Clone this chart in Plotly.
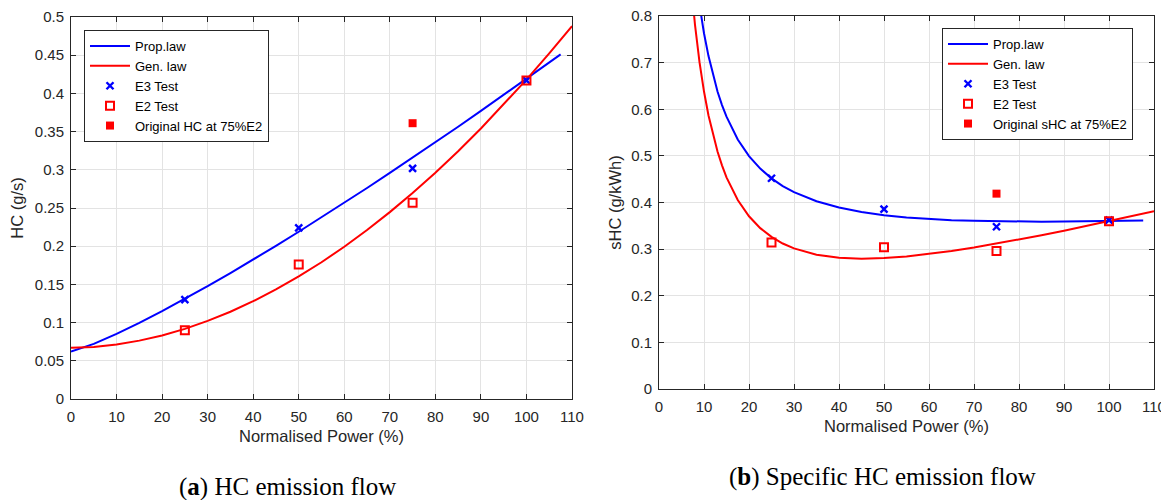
import plotly.graph_objects as go

# ---------- data ----------
# (a) HC emission flow
prop_x_a = [0, 5, 10, 15, 20, 25, 30, 35, 40, 45, 50, 55, 60, 65, 70, 75, 80, 85, 90, 95, 100, 105, 107.5]
prop_y_a = [0.062, 0.0722, 0.0853, 0.0996, 0.1150, 0.1310, 0.1476, 0.1648, 0.1824, 0.2005, 0.2189,
            0.2377, 0.2568, 0.2762, 0.2959, 0.3158, 0.3360, 0.3564, 0.3771, 0.3979, 0.419, 0.4403, 0.4510]
gen_x_a = [0, 5, 10, 15, 20, 25, 30, 35, 40, 45, 50, 55, 60, 65, 70, 75, 80, 85, 90, 95, 100, 105, 110]
gen_y_a = [0.067, 0.0681, 0.0713, 0.0764, 0.0832, 0.0918, 0.1022, 0.1142, 0.1280, 0.1434, 0.1604,
           0.1790, 0.1993, 0.2212, 0.2446, 0.2695, 0.2962, 0.3244, 0.3540, 0.3853, 0.418, 0.4523, 0.4881]
test_x = [25, 50, 75, 100]
e3_a = [0.130, 0.224, 0.302, 0.417]
e2_a = [0.090, 0.176, 0.257, 0.417]
orig_x = [75]
orig_a = [0.361]

# (b) Specific HC emission flow
prop_x_b = [9, 9.5, 10, 11, 12, 13, 14, 15, 17.5, 20, 22.5, 25, 27.5, 30, 35, 40, 45, 50, 55, 60,
            65, 70, 75, 80, 85, 90, 95, 100, 105, 107.6]
prop_y_b = [0.824, 0.792, 0.763, 0.714, 0.673, 0.638, 0.609, 0.584, 0.535, 0.4995, 0.4727, 0.4518,
            0.4353, 0.4221, 0.4026, 0.3891, 0.3796, 0.3729, 0.3680, 0.3646, 0.3622, 0.3606, 0.3596,
            0.3591, 0.3589, 0.3590, 0.3595, 0.360, 0.3608, 0.3612]
gen_x_b = [7, 7.5, 8, 9, 10, 11, 12, 13, 14, 15, 17.5, 20, 22.5, 25, 27.5, 30, 35, 40, 45, 50, 55,
           60, 65, 70, 75, 80, 85, 90, 95, 100, 105, 110]
gen_y_b = [0.8845, 0.8292, 0.7809, 0.7010, 0.638, 0.5866, 0.5445, 0.5094, 0.4797, 0.454, 0.4054,
           0.3705, 0.3450, 0.3262, 0.3121, 0.3015, 0.2881, 0.2816, 0.2795, 0.2808, 0.2843, 0.2895,
           0.2959, 0.3033, 0.3116, 0.3204, 0.3298, 0.3395, 0.3496, 0.360, 0.3706, 0.3814]
e3_b = [0.452, 0.386, 0.348, 0.362]
e2_b = [0.314, 0.304, 0.296, 0.360]
orig_b = [0.419]

x_ticks = list(range(0, 111, 10))
y_ticks_a = [0, 0.05, 0.1, 0.15, 0.2, 0.25, 0.3, 0.35, 0.4, 0.45, 0.5]
y_tick_text_a = ["0", "0.05", "0.1", "0.15", "0.2", "0.25", "0.3", "0.35", "0.4", "0.45", "0.5"]
y_ticks_b = [0, 0.1, 0.2, 0.3, 0.4, 0.5, 0.6, 0.7, 0.8]
y_tick_text_b = ["0", "0.1", "0.2", "0.3", "0.4", "0.5", "0.6", "0.7", "0.8"]

BLUE = "#0000ff"
RED = "#ff0000"
FONT = "Liberation Sans, Arial, sans-serif"
AX = "#262626"

fig = go.Figure()

def add_panel(xa, ya, legend, px, py, gx, gy, e3, e2, orig, orig_name):
    fig.add_trace(go.Scatter(x=px, y=py, mode="lines", name="Prop.law",
                             line=dict(color=BLUE, width=2),
                             xaxis=xa, yaxis=ya, legend=legend))
    fig.add_trace(go.Scatter(x=gx, y=gy, mode="lines", name="Gen. law",
                             line=dict(color=RED, width=2),
                             xaxis=xa, yaxis=ya, legend=legend))
    fig.add_trace(go.Scatter(x=test_x, y=e3, mode="markers", name="E3 Test",
                             marker=dict(symbol="x-thin", size=7, color=BLUE,
                                         line=dict(color=BLUE, width=2.4)),
                             xaxis=xa, yaxis=ya, legend=legend))
    fig.add_trace(go.Scatter(x=test_x, y=e2, mode="markers", name="E2 Test",
                             marker=dict(symbol="square-open", size=8, color=RED,
                                         line=dict(color=RED, width=2)),
                             xaxis=xa, yaxis=ya, legend=legend))
    fig.add_trace(go.Scatter(x=orig_x, y=orig, mode="markers", name=orig_name,
                             marker=dict(symbol="square", size=8, color=RED),
                             xaxis=xa, yaxis=ya, legend=legend))

add_panel("x", "y", "legend", prop_x_a, prop_y_a, gen_x_a, gen_y_a, e3_a, e2_a, orig_a,
          "Original HC at 75%E2")
add_panel("x2", "y2", "legend2", prop_x_b, prop_y_b, gen_x_b, gen_y_b, e3_b, e2_b, orig_b,
          "Original sHC at 75%E2")

# page body has an 8 px margin, so the figure is drawn 8 px in from the window edge
OFF = 8
W, H = 1169 - OFF, 500 - OFF

def fx(px):
    return (px - OFF) / W

def fy(py):
    return 1 - (py - OFF) / H

common_axis = dict(showline=True, linecolor=AX, linewidth=1, mirror="ticks",
                   ticks="inside", ticklen=5, tickcolor=AX, automargin=False,
                   ticklabeloverflow="allow",
                   showgrid=True, gridcolor="#e3e3e3", gridwidth=1,
                   zeroline=False, tickfont=dict(family=FONT, size=15, color=AX),
                   title_font=dict(family=FONT, size=16.5, color=AX))

legend_style = dict(bgcolor="white", bordercolor=AX, borderwidth=1,
                    font=dict(family=FONT, size=13, color="#000000"),
                    xanchor="left", yanchor="top", tracegroupgap=0, itemwidth=40)

fig.update_layout(
    width=W, height=H,
    margin=dict(l=0, r=0, t=0, b=0),
    paper_bgcolor="white", plot_bgcolor="white",
    xaxis=dict(domain=[fx(71), fx(572)], anchor="y", range=[0, 110],
               tickvals=x_ticks, ticklabelstandoff=4,
               title=dict(text="Normalised Power (%)", standoff=6), **common_axis),
    yaxis=dict(domain=[fy(399), fy(17)], anchor="x", range=[0, 0.50001],
               tickvals=y_ticks_a, ticktext=y_tick_text_a, ticklabelstandoff=3,
               title=dict(text="HC (g/s)", standoff=7), **common_axis),
    xaxis2=dict(domain=[fx(659), fx(1154)], anchor="y2", range=[0, 110],
                tickvals=x_ticks, ticklabelstandoff=4,
                title=dict(text="Normalised Power (%)", standoff=6), **common_axis),
    yaxis2=dict(domain=[fy(389), fy(16)], anchor="x2", range=[0, 0.80001],
                tickvals=y_ticks_b, ticktext=y_tick_text_b, ticklabelstandoff=3,
                title=dict(text="sHC (g/kWh)", standoff=5), **common_axis),
    legend=dict(x=fx(84), y=fy(30), **legend_style),
    legend2=dict(x=fx(942), y=fy(28), **legend_style),
    showlegend=True,
)

CAP_FONT = dict(family="Liberation Serif, Times New Roman, serif", size=25, color="#000000")
fig.add_annotation(text="(<b>a</b>) HC emission flow", xref="paper", yref="paper",
                   x=fx(287), y=fy(487), showarrow=False, font=CAP_FONT,
                   xanchor="center", yanchor="middle")
fig.add_annotation(text="(<b>b</b>) Specific HC emission flow", xref="paper", yref="paper",
                   x=fx(882), y=fy(477), showarrow=False, font=CAP_FONT,
                   xanchor="center", yanchor="middle")

fig.write_html("out.html")
